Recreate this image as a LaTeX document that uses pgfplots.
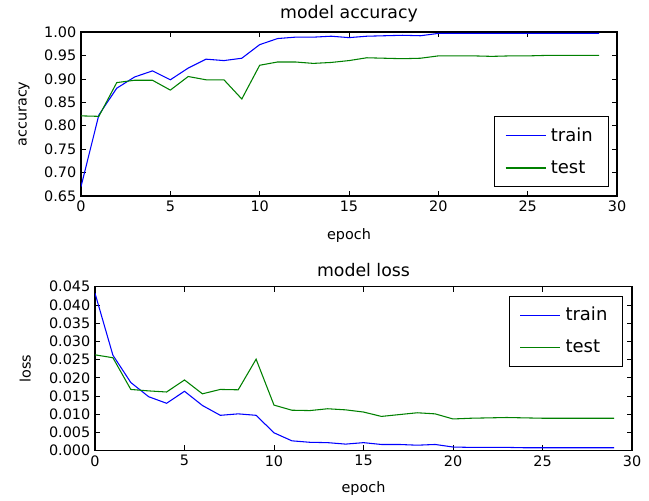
\documentclass[border=0pt]{standalone}
\usepackage{fontspec}
\setmainfont{DejaVu Sans}
\usepackage{pgfplots}
\pgfplotsset{compat=1.18}

\definecolor{mplblue}{rgb}{0,0,1}
\definecolor{mplgreen}{rgb}{0,0.5,0}

\pgfplotsset{
  mplstyle/.style={
    scale only axis,
    width=402pt, height=123pt,
    xmin=0, xmax=30,
    xtick={0,5,...,30},
    tick align=inside,
    major tick length=4pt,
    tick style={black, line width=0.5pt},
    axis line style={line width=0.8pt},
    tick label style={font=\fontsize{10.8}{13}\selectfont},
    label style={font=\fontsize{10.8}{13}\selectfont},
    title style={font=\fontsize{13}{15}\selectfont},
    /pgf/number format/assume math mode=true,
    legend cell align=left,
    legend image code/.code={\draw[line width=0.9pt,#1] (0pt,0pt) -- (30pt,0pt);},
    legend style={font=\fontsize{13.5}{15}\selectfont,
      inner xsep=8pt, inner ysep=5pt, row sep=6pt,
      nodes={inner sep=3.5pt}},
    every axis plot/.append style={line width=0.8pt},
  }
}

\begin{document}
\begin{tikzpicture}
\path (0pt,0pt) rectangle (486.75pt,375pt);

\begin{axis}[mplstyle,
  at={(60.75pt,228pt)}, anchor=south west,
  ymin=0.65, ymax=1.00,
  ytick={0.65,0.70,...,1.001},
  yticklabel style={/pgf/number format/.cd, fixed, fixed zerofill, precision=2},
  title={model accuracy},
  title style={at={(axis description cs:0.5,1.065)}, anchor=center},
  xlabel={epoch},
  xlabel style={at={(axis description cs:0.5,-0.238)}, anchor=center},
  ylabel={accuracy},
  ylabel style={at={(axis description cs:-0.106,0.5)}, anchor=center, rotate=0},
  legend style={at={(axis description cs:1,0)}, anchor=south east, xshift=-6.5pt, yshift=6.75pt},
]
\addplot[color=mplblue] coordinates {
(0,0.670) (1,0.823) (2,0.880) (3,0.904) (4,0.917) (5,0.898) (6,0.923) (7,0.942)
(8,0.939) (9,0.944) (10,0.973) (11,0.986) (12,0.989) (13,0.989) (14,0.991)
(15,0.988) (16,0.991) (17,0.992) (18,0.993) (19,0.992) (20,0.997) (21,0.997)
(22,0.997) (23,0.997) (24,0.997) (25,0.997) (26,0.997) (27,0.997) (28,0.997) (29,0.997)
};
\addplot[color=mplgreen] coordinates {
(0,0.821) (1,0.820) (2,0.892) (3,0.897) (4,0.897) (5,0.876) (6,0.905) (7,0.898)
(8,0.898) (9,0.857) (10,0.929) (11,0.936) (12,0.936) (13,0.933) (14,0.935)
(15,0.939) (16,0.945) (17,0.944) (18,0.943) (19,0.944) (20,0.949) (21,0.949)
(22,0.949) (23,0.948) (24,0.949) (25,0.949) (26,0.950) (27,0.950) (28,0.950) (29,0.950)
};
\legend{train,test}
\end{axis}

\begin{axis}[mplstyle,
  at={(71.25pt,37pt)}, anchor=south west,
  width=402.75pt,
  ymin=0, ymax=0.045,
  ytick={0,0.005,...,0.0451},
  yticklabel style={/pgf/number format/.cd, fixed, fixed zerofill, precision=3},
  scaled y ticks=false,
  title={model loss},
  title style={at={(axis description cs:0.5,1.055)}, anchor=center},
  xlabel={epoch},
  xlabel style={at={(axis description cs:0.5,-0.228)}, anchor=center},
  ylabel={loss},
  ylabel style={at={(axis description cs:-0.130,0.5)}, anchor=center, rotate=0},
  legend style={at={(axis description cs:1,1)}, anchor=north east, xshift=-6.75pt, yshift=-6.75pt},
]
\addplot[color=mplblue] coordinates {
(0,0.0432) (1,0.0262) (2,0.0187) (3,0.0148) (4,0.0130) (5,0.0163) (6,0.0124) (7,0.0097)
(8,0.0101) (9,0.0097) (10,0.0049) (11,0.0027) (12,0.0023) (13,0.0022) (14,0.0018)
(15,0.0022) (16,0.0017) (17,0.0017) (18,0.0015) (19,0.0017) (20,0.0010) (21,0.0009)
(22,0.0009) (23,0.0009) (24,0.0008) (25,0.0008) (26,0.0008) (27,0.0008) (28,0.0008) (29,0.0008)
};
\addplot[color=mplgreen] coordinates {
(0,0.0263) (1,0.0255) (2,0.0168) (3,0.0164) (4,0.0161) (5,0.0194) (6,0.0156) (7,0.0168)
(8,0.0167) (9,0.0251) (10,0.0125) (11,0.0111) (12,0.0110) (13,0.0115) (14,0.0112)
(15,0.0106) (16,0.0094) (17,0.0099) (18,0.0104) (19,0.0101) (20,0.0087) (21,0.0089)
(22,0.0090) (23,0.0091) (24,0.0090) (25,0.0089) (26,0.0089) (27,0.0089) (28,0.0089) (29,0.0089)
};
\legend{train,test}
\end{axis}
\end{tikzpicture}
\end{document}
